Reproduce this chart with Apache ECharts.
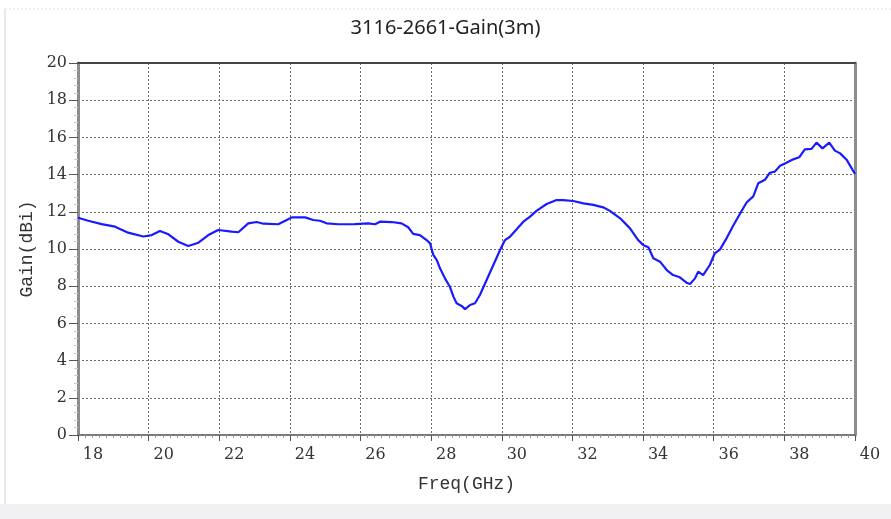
<!DOCTYPE html>
<html>
<head>
<meta charset="utf-8">
<script src="https://cdn.jsdelivr.net/npm/echarts@6/dist/echarts.min.js"></script>
<style>
  html, body { margin: 0; padding: 0; background: #ffffff; }
  #chart { width: 891px; height: 519px; }
</style>
</head>
<body>
<div id="chart"></div>
<script>
// ---- data ----
const titleText = '3116-2661-Gain(3m)';
const xName = 'Freq(GHz)';
const yName = 'Gain(dBi)';
const xTicks = [18, 20, 22, 24, 26, 28, 30, 32, 34, 36, 38, 40];
const yTicks = [0, 2, 4, 6, 8, 10, 12, 14, 16, 18, 20];

const freq = [
  18.00, 18.29, 18.67, 19.05, 19.42, 19.85, 20.09, 20.32, 20.56, 20.84,
  21.12, 21.41, 21.69, 21.97, 22.35, 22.54, 22.82, 23.06, 23.25, 23.67,
  23.91, 24.05, 24.43, 24.66, 24.85, 25.04, 25.37, 25.84, 26.22, 26.41,
  26.55, 26.88, 27.16, 27.35, 27.49, 27.68, 27.87, 27.97, 28.06, 28.16,
  28.25, 28.39, 28.53, 28.63, 28.72, 28.86, 28.96, 29.10, 29.24, 29.38,
  29.57, 29.76, 29.95, 30.09, 30.23, 30.42, 30.61, 30.80, 30.99, 31.27,
  31.55, 31.74, 32.02, 32.31, 32.59, 32.87, 33.06, 33.35, 33.63, 33.86,
  34.00, 34.15, 34.29, 34.48, 34.67, 34.85, 35.04, 35.23, 35.33, 35.47,
  35.56, 35.70, 35.89, 36.03, 36.18, 36.37, 36.55, 36.74, 36.93, 37.12,
  37.26, 37.45, 37.59, 37.73, 37.88, 38.06, 38.25, 38.42, 38.58, 38.77,
  38.91, 39.08, 39.27, 39.43, 39.58, 39.77, 40.00
];
const gain = [
  11.68, 11.52, 11.34, 11.20, 10.88, 10.67, 10.75, 10.97, 10.79, 10.39,
  10.16, 10.34, 10.75, 11.02, 10.93, 10.90, 11.38, 11.45, 11.36, 11.33,
  11.56, 11.70, 11.70, 11.56, 11.52, 11.38, 11.33, 11.34, 11.38, 11.33,
  11.47, 11.45, 11.38, 11.17, 10.81, 10.75, 10.48, 10.30, 9.68, 9.40,
  8.96, 8.42, 7.97, 7.44, 7.08, 6.94, 6.77, 6.99, 7.08, 7.53,
  8.33, 9.14, 9.95, 10.48, 10.66, 11.06, 11.47, 11.74, 12.06, 12.42,
  12.63, 12.63, 12.58, 12.45, 12.37, 12.24, 12.05, 11.65, 11.11, 10.48,
  10.22, 10.09, 9.50, 9.32, 8.87, 8.60, 8.48, 8.19, 8.12, 8.42,
  8.78, 8.60, 9.14, 9.77, 9.98, 10.60, 11.25, 11.88, 12.50, 12.83,
  13.53, 13.72, 14.10, 14.16, 14.48, 14.64, 14.82, 14.93, 15.36, 15.38,
  15.72, 15.41, 15.72, 15.29, 15.14, 14.78, 14.03
];

const chart = echarts.init(document.getElementById('chart'), null, { renderer: 'canvas' });

const serif = "'DejaVu Serif', 'Liberation Serif', serif";
const mono = "'Liberation Mono', 'DejaVu Sans Mono', monospace";
const gridLine = { show: true, lineStyle: { color: '#6a6a6a', width: 1, type: [2, 2] } };

const option = {
  animation: false,
  backgroundColor: '#ffffff',
  title: {
    text: titleText,
    left: 'center',
    top: 13,
    textStyle: { fontFamily: "'Noto Sans', sans-serif", fontSize: 20, fontWeight: 'normal', color: '#222' }
  },
  graphic: [
    { type: 'rect', shape: { x: 0, y: 504, width: 891, height: 15 }, style: { fill: '#f0f0f2' }, silent: true },
    { type: 'line', shape: { x1: 5, y1: 9, x2: 5, y2: 504 }, style: { stroke: '#e6e6ee', lineWidth: 2 }, silent: true },
    { type: 'line', shape: { x1: 5, y1: 9, x2: 891, y2: 9 }, style: { stroke: '#e2e2e2', lineWidth: 1, lineDash: [2, 2] }, silent: true }
  ],
  grid: { left: 78, right: 36, top: 63, bottom: 84, containLabel: false },
  xAxis: [
    {
      type: 'value', position: 'bottom',
      min: xTicks[0], max: xTicks[xTicks.length - 1], interval: 2,
      name: xName, nameLocation: 'middle', nameGap: 40,
      nameTextStyle: { fontFamily: mono, fontSize: 18, color: '#333' },
      axisLine: { show: true, onZero: false, lineStyle: { color: '#7a7a7a', width: 2 } },
      axisTick: { show: true, length: 6, lineStyle: { color: '#555' } },
      minorTick: { show: true, splitNumber: 10, length: 3, lineStyle: { color: '#999' } },
      axisLabel: { fontFamily: serif, fontSize: 16, color: '#333', margin: 12, padding: [0, 0, 0, 30],
        showMinLabel: true, showMaxLabel: true },
      splitLine: gridLine
    },
    {
      type: 'value', position: 'top',
      min: xTicks[0], max: xTicks[xTicks.length - 1], interval: 2,
      axisLine: { show: true, onZero: false, lineStyle: { color: '#444', width: 2 } },
      axisTick: { show: false }, axisLabel: { show: false }, splitLine: { show: false }
    }
  ],
  yAxis: [
    {
      type: 'value', position: 'left',
      min: yTicks[0], max: yTicks[yTicks.length - 1], interval: 2,
      name: yName, nameLocation: 'middle', nameGap: 40, nameRotate: 90,
      nameTextStyle: { fontFamily: mono, fontSize: 18, color: '#333' },
      axisLine: { show: true, onZero: false, lineStyle: { color: '#8c8c8c', width: 3 } },
      axisTick: { show: true, length: 9, lineStyle: { color: '#555' } },
      minorTick: { show: true, splitNumber: 5, length: 4, lineStyle: { color: '#ccc' } },
      axisLabel: { fontFamily: serif, fontSize: 16, color: '#333', margin: 11 },
      splitLine: gridLine
    },
    {
      type: 'value', position: 'right',
      min: yTicks[0], max: yTicks[yTicks.length - 1], interval: 2,
      axisLine: { show: true, onZero: false, lineStyle: { color: '#8c8c8c', width: 3 } },
      axisTick: { show: false }, axisLabel: { show: false }, splitLine: { show: false }
    }
  ],
  series: [
    {
      type: 'line',
      xAxisIndex: 0, yAxisIndex: 0,
      data: freq.map((f, i) => [f, gain[i]]),
      showSymbol: false,
      smooth: false,
      lineStyle: { color: '#1a1aff', width: 2.2 },
      z: 5
    }
  ]
};

chart.setOption(option);
</script>
</body>
</html>
